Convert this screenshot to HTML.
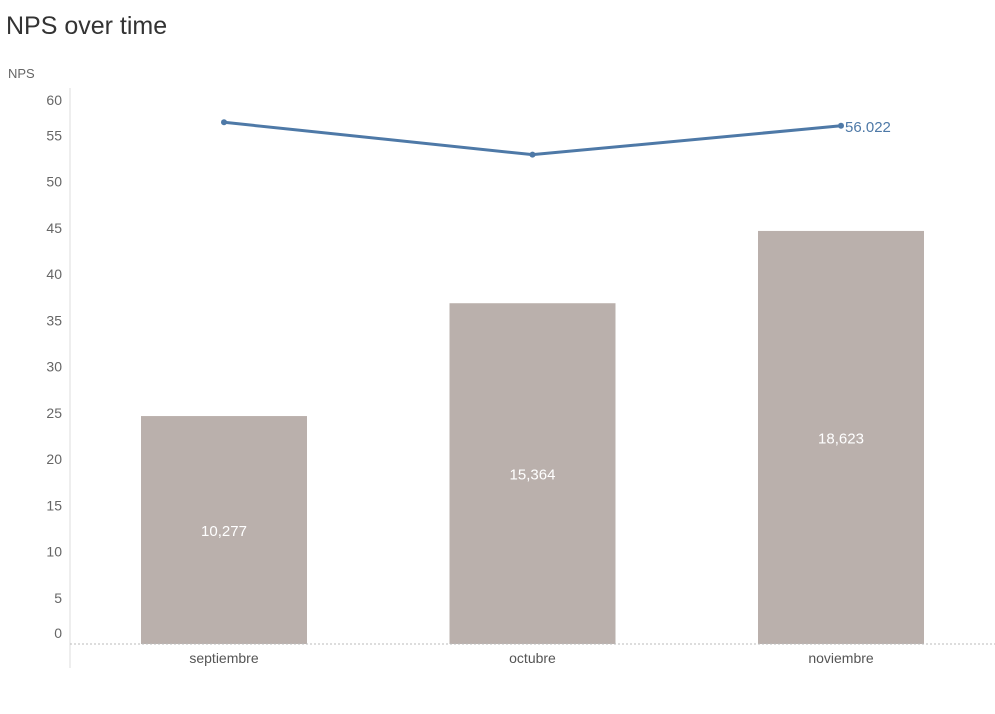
<!DOCTYPE html>
<html><head><meta charset="utf-8"><style>
body{margin:0;background:#fff;width:995px;height:709px;overflow:hidden;font-family:"Liberation Sans",sans-serif}
</style></head><body>
<svg id="chart" width="995" height="709" xmlns="http://www.w3.org/2000/svg">
<text x="6" y="34" font-size="25" fill="#333">NPS over time</text>
<text x="8" y="78" font-size="13" fill="#666">NPS</text>
<line x1="70" y1="88" x2="70" y2="668" stroke="#ddd"/>
<g id="ticks"></g><g id="bars"></g><g id="line"></g>
<line x1="70" y1="644" x2="995" y2="644" stroke="#bbb" stroke-dasharray="2,2"/>
</svg>
<script>
const categories=["septiembre","octubre","noviembre"];
const barValues=[10277,15364,18623];
const barLabels=["10,277","15,364","18,623"];
const npsValues=[56.4,52.9,56.022];
const yTicks=[0,5,10,15,20,25,30,35,40,45,50,55,60];
const NS="http://www.w3.org/2000/svg";
const y0=644, pxPerNps=9.25, pxPerCount=0.02218;
const yScale=v=>y0-v*pxPerNps;
const barY=v=>y0-v*pxPerCount;
const xCenter=i=>224+i*308.5;
function mk(tag,attrs,parent){const e=document.createElementNS(NS,tag);for(const k in attrs)e.setAttribute(k,attrs[k]);parent.appendChild(e);return e;}
const tg=document.getElementById('ticks');
yTicks.forEach(t=>{let y=yScale(t)+5;if(t===0)y=638;if(t===60)y=105;
 const e=mk('text',{x:62,y:y,'font-size':14,fill:'#666','text-anchor':'end'},tg);e.textContent=t;
 
 });
const bg=document.getElementById('bars');
categories.forEach((c,i)=>{const top=barY(barValues[i]);
 const r=mk('rect',{x:xCenter(i)-83,y:top,width:166,height:y0-top,fill:'#bab0ac'},bg);
 
 
 const l=mk('text',{x:xCenter(i),y:(top+y0)/2+6,'font-size':15,fill:'#fff','text-anchor':'middle'},bg);l.textContent=barLabels[i];
 
 
 const xl=mk('text',{x:xCenter(i),y:663,'font-size':14,fill:'#555','text-anchor':'middle'},bg);xl.textContent=c;
 
 });
const lg=document.getElementById('line');
const p=mk('polyline',{points:npsValues.map((v,i)=>xCenter(i)+','+yScale(v)).join(' '),fill:'none',stroke:'#4e79a7','stroke-width':3},lg);


npsValues.forEach((v,i)=>{const c=mk('circle',{cx:xCenter(i),cy:yScale(v),r:3,fill:'#4e79a7'},lg);
 
 });
const last=npsValues.length-1;
const lt=mk('text',{x:xCenter(last)+4,y:yScale(npsValues[last])+6,'font-size':15,fill:'#4e79a7'},lg);
lt.textContent=npsValues[last].toFixed(3);


</script>
</body></html>
